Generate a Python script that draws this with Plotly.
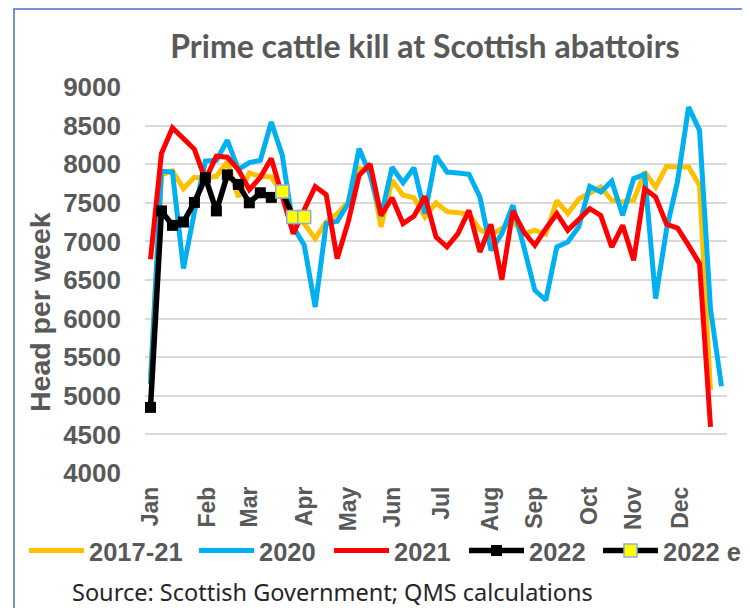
import plotly.graph_objects as go

# Weekly prime cattle kill, head per week
weeks = list(range(1, 54))

avg_2017_21 = [5250, 7860, 7915, 7684, 7830, 7820, 7843, 8030, 7575, 7885,
               7843, 7834, 7620, 7317, 7231, 7036, 7250, 7360, 7510, 7950,
               7920, 7187, 7791, 7598, 7565, 7316, 7500, 7385, 7370, 7355,
               7150, 7080, 7170, 7260, 7100, 7143, 7095, 7528, 7360, 7550,
               7627, 7705, 7533, 7511, 7533, 7899, 7705, 7973, 7964, 7964,
               7727, 5072]

kill_2020 = [5150, 7910, 7899, 6648, 7380, 8040, 8050, 8310, 7930, 8020,
             8050, 8547, 8115, 7187, 6950, 6151, 7231, 7262, 7490, 8202,
             7860, 7328, 7960, 7760, 7953, 7360, 8108, 7899, 7886, 7870,
             7575, 6885, 7101, 7468, 6928, 6367, 6238, 6928, 6993, 7187,
             7714, 7640, 7780, 7339, 7813, 7870, 6259, 7160, 7780, 8740,
             8439, 6120, 5124]

kill_2021 = [6770, 8140, 8470, 8330, 8193, 7800, 8103, 8090, 7930, 7670,
             7830, 8073, 7575, 7100, 7410, 7710, 7605, 6777, 7250, 7856,
             8003, 7338, 7565, 7230, 7328, 7584, 7057, 6928, 7100, 7402,
             6863, 7221, 6504, 7394, 7122, 6949, 7165, 7359, 7143, 7294,
             7424, 7338, 6927, 7208, 6755, 7683, 7575, 7221, 7173, 6949,
             6712, 4597]

kill_2022 = [4850, 7395, 7208, 7251, 7505, 7825, 7395, 7862, 7738, 7500,
             7630, 7570]

weeks_est = [13, 14, 15]
kill_2022_est = [7645, 7316, 7316]

month_weeks = [1, 6.2, 10, 15, 19, 23, 27.5, 32, 36, 41, 45, 49.3]
month_names = ["Jan", "Feb", "Mar", "Apr", "May", "Jun", "Jul", "Aug",
               "Sep", "Oct", "Nov", "Dec"]

GREY = "#595959"

# the page puts the plot div 8px in from the top-left, so the figure is
# 8px smaller and everything below is given in page pixels
OFF = 8
W, H = 750 - OFF, 608 - OFF
plot_left, plot_right, plot_top, plot_bottom = 145, 727, 87, 473
L, R = plot_left - OFF, W - (plot_right - OFF)
T, B = plot_top - OFF, H - (plot_bottom - OFF)
PW, PH = W - L - R, H - T - B


def px_x(x):
    return (x - OFF - L) / PW


def px_y(y):
    return (H - B - (y - OFF)) / PH


def cx(x):
    return (x - OFF) / W


def cy(y):
    return 1 - (y - OFF) / H


fig = go.Figure()
fig.add_trace(go.Scatter(x=weeks[:len(avg_2017_21)], y=avg_2017_21, mode="lines",
                         name="2017-21", legend="legend",
                         line=dict(color="#FFC000", width=5)))
fig.add_trace(go.Scatter(x=weeks, y=kill_2020, mode="lines", name="2020",
                         legend="legend2", line=dict(color="#00B0F0", width=5)))
fig.add_trace(go.Scatter(x=weeks[:len(kill_2021)], y=kill_2021, mode="lines",
                         name="2021", legend="legend3",
                         line=dict(color="#FF0000", width=5)))
# 2022 line runs on to the first estimate so the two series join up
fig.add_trace(go.Scatter(x=weeks[:len(kill_2022)] + weeks_est[:1],
                         y=kill_2022 + kill_2022_est[:1], mode="lines+markers",
                         name="2022", legend="legend4",
                         line=dict(color="#000000", width=5.5),
                         marker=dict(symbol="square", size=11, color="#000000")))
fig.add_trace(go.Scatter(x=weeks_est, y=kill_2022_est, mode="lines+markers",
                         name="2022 est", legend="legend5",
                         line=dict(color="#000000", width=5.5),
                         marker=dict(symbol="square", size=13, color="#FFFF00",
                                     line=dict(color="#8FAADC", width=1.5))))

legend_font = dict(family="Liberation Sans, Arial", size=25.5, color=GREY,
                   weight="bold")


def legend_at(x_page):
    # symbol line starts about 14px right of the legend's x
    return dict(orientation="h", xref="container", yref="container",
                x=cx(x_page - 6), xanchor="left", y=cy(551), yanchor="middle",
                font=legend_font, itemwidth=55, bgcolor="rgba(0,0,0,0)")


fig.update_layout(
    width=W, height=H,
    margin=dict(l=L, r=R, t=T, b=B, autoexpand=False),
    paper_bgcolor="white", plot_bgcolor="white",
    title=dict(text="Prime cattle kill at Scottish abattoirs",
               font=dict(family="Lato", size=32, color=GREY, weight="bold"),
               xref="container", x=cx(425), xanchor="center",
               yref="container", y=cy(47), yanchor="middle"),
    xaxis=dict(range=[0.5, 53.5], tickvals=month_weeks, ticktext=month_names,
               tickangle=-90, showgrid=False, zeroline=False, showline=False,
               ticks="", ticklabelstandoff=8, automargin=False,
               tickfont=dict(family="Liberation Sans, Arial", size=23, color=GREY,
                             weight="bold")),
    yaxis=dict(range=[4000, 9000], dtick=500, showgrid=True, gridcolor="#D9D9D9",
               gridwidth=1.5, zeroline=False, showline=False, ticks="",
               ticklabelstandoff=23, automargin=False,
               tickfont=dict(family="Liberation Sans, Arial", size=26, color=GREY,
                             weight="bold")),
    legend=legend_at(30),
    legend2=legend_at(200),
    legend3=legend_at(335),
    legend4=legend_at(470),
    legend5=legend_at(604),
    showlegend=True,
)

fig.add_annotation(text="Head per week", textangle=-90, showarrow=False,
                   xref="paper", yref="paper", x=px_x(40), y=px_y(312),
                   xanchor="center", yanchor="middle",
                   font=dict(family="Liberation Sans, Arial", size=28.5, color=GREY,
                             weight="bold"))
fig.add_annotation(text="Source: Scottish Government; QMS calculations",
                   showarrow=False, xref="paper", yref="paper",
                   x=px_x(70), y=px_y(592), xanchor="left", yanchor="middle",
                   font=dict(family="Noto Sans", size=23.5, color="#262626"))

# blue frame of the original chart box
fig.add_shape(type="rect", xref="paper", yref="paper",
              x0=px_x(14), x1=px_x(800), y0=px_y(700), y1=px_y(OFF + 1),
              line=dict(color="#4472C4", width=1.5), fillcolor="rgba(0,0,0,0)",
              layer="below")

fig.write_html("out.html")
